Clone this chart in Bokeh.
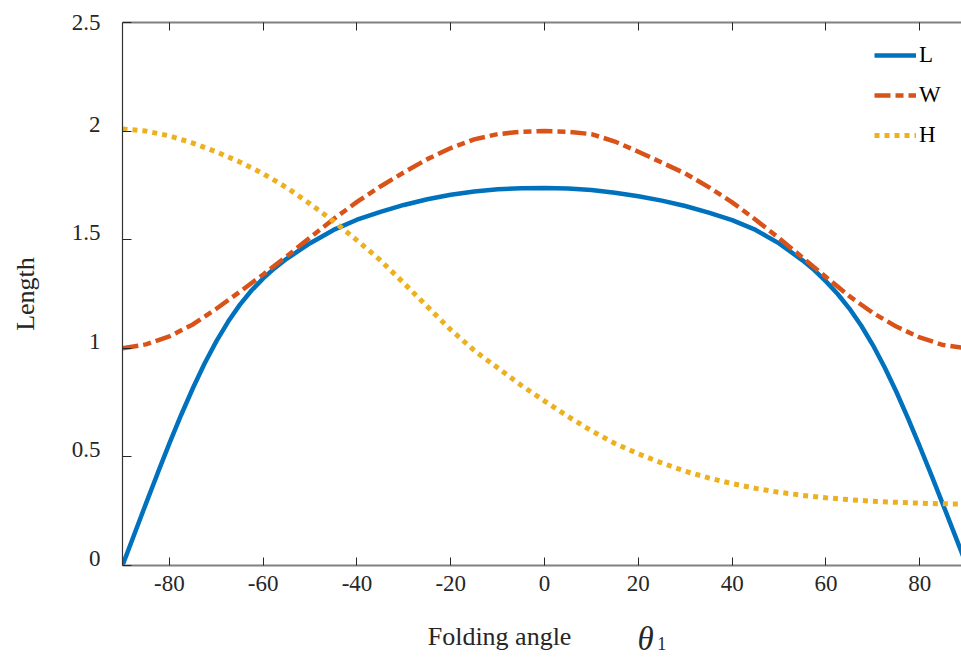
from bokeh.plotting import figure
from bokeh.layouts import column
from bokeh.models import LinearAxis, Range1d, Legend, LegendItem, Label, FixedTicker
from bokeh.embed import file_html
from bokeh.resources import INLINE

# ---- data ----
angle_L = [-90, -87.5, -85, -82.5, -80, -77.5, -75, -72.5, -70, -67.5, -65, -62.5, -60, -57.5, -55,
           -50, -45, -40, -35, -30, -25, -20, -15, -10, -5, 0, 5, 10, 15, 20, 25, 30, 35, 40, 45, 50,
           55, 57.5, 60, 62.5, 65, 67.5, 70, 72.5, 75, 77.5, 80, 82.5, 85, 87.5, 90]
L_len = [0.0, 0.143, 0.285, 0.425, 0.562, 0.693, 0.816, 0.93, 1.032, 1.122, 1.2, 1.266, 1.322, 1.37, 1.412,
         1.484, 1.545, 1.592, 1.628, 1.66, 1.686, 1.707, 1.722, 1.732, 1.737, 1.738, 1.736, 1.729, 1.716,
         1.70, 1.68, 1.655, 1.625, 1.59, 1.545, 1.483,
         1.405, 1.36, 1.308, 1.25, 1.183, 1.105, 1.015, 0.913, 0.80, 0.677, 0.548, 0.415, 0.278, 0.14, 0.0]
angle = [-90, -85, -80, -75, -70, -65, -60, -55, -50, -45, -40, -35, -30, -25, -20, -15, -10, -5, 0,
         5, 10, 15, 20, 25, 30, 35, 40, 45, 50, 55, 60, 65, 70, 75, 80, 85, 90]
W_len = [1.0, 1.018, 1.055, 1.11, 1.182, 1.26, 1.34, 1.423, 1.51, 1.595, 1.674, 1.745, 1.81, 1.871,
         1.922, 1.962, 1.986, 1.997, 2.0, 1.997, 1.986, 1.952, 1.905, 1.855, 1.805, 1.742, 1.672, 1.592,
         1.507, 1.418, 1.328, 1.24, 1.163, 1.10, 1.05, 1.015, 1.0]
H_len = [2.01, 2.0, 1.978, 1.945, 1.905, 1.858, 1.804, 1.74, 1.665, 1.585, 1.497, 1.405, 1.30, 1.192,
         1.085, 0.99, 0.91, 0.83, 0.757, 0.686, 0.62, 0.562, 0.514, 0.472, 0.434, 0.403, 0.377,
         0.355, 0.337, 0.323, 0.312, 0.303, 0.296, 0.291, 0.287, 0.284, 0.283]
series_names = ["L", "W", "H"]
x_ticks = [-80, -60, -40, -20, 0, 20, 40, 60, 80]
x_tick_labels = ["-80", "-60", "-40", "-20", "0", "20", "40", "60", "80"]
y_ticks = [0, 0.5, 1, 1.5, 2, 2.5]
y_tick_labels = ["0", "0.5", "1", "1.5", "2", "2.5"]
x_label = "Folding angle"
x_symbol = "θ"
x_symbol_sub = "1"
y_label = "Length"

FONT = "Liberation Serif"
BLUE = "#0072BD"
ORANGE = "#D95319"
YELLOW = "#EDB120"
DARK = "#262626"

X0, X1 = -90, 88.9
Y0, Y1 = 0, 2.5
PX_PER_UNIT = 543 / 2.5          # vertical pixels per unit of length in the frame
LABEL_SHIFT = 7 / PX_PER_UNIT    # y tick labels sit a few pixels above their ticks

p = figure(width=961, height=605, output_backend="svg", toolbar_location=None,
           x_range=Range1d(X0, X1), y_range=Range1d(Y0, Y1),
           min_border_left=122, min_border_right=0, min_border_top=22, min_border_bottom=40,
           x_axis_location=None, y_axis_location=None)
p.grid.visible = False
p.outline_line_color = None
p.background_fill_color = "white"
p.border_fill_color = "white"
p.extra_y_ranges = {"lab": Range1d(Y0 - LABEL_SHIFT, Y1 - LABEL_SHIFT)}

# bottom axis
xb = LinearAxis(ticker=FixedTicker(ticks=x_ticks),
                major_label_overrides={t: s for t, s in zip(x_ticks, x_tick_labels)})
xb.axis_line_color = "#808080"
xb.axis_line_width = 2
xb.major_tick_in = 8
xb.major_tick_out = 0
xb.major_tick_line_color = DARK
xb.minor_tick_line_color = None
xb.major_label_standoff = 10
xb.major_label_text_font = FONT
xb.major_label_text_font_size = "23px"
xb.major_label_text_color = DARK
p.add_layout(xb, "below")

# top axis (box edge with inward ticks)
xt = LinearAxis(ticker=FixedTicker(ticks=x_ticks),
                major_label_overrides={t: "" for t in x_ticks})
xt.axis_line_color = "#808080"
xt.axis_line_width = 2
xt.major_tick_in = 8
xt.major_tick_out = 0
xt.major_tick_line_color = DARK
xt.minor_tick_line_color = None
xt.major_label_standoff = 0
p.add_layout(xt, "above")

# left axis: line + inward ticks
yt = LinearAxis(ticker=FixedTicker(ticks=y_ticks),
                major_label_overrides={t: "" for t in y_ticks})
yt.axis_line_color = "#333333"
yt.axis_line_width = 1.2
yt.major_tick_in = 9
yt.major_tick_out = 0
yt.major_tick_line_color = DARK
yt.minor_tick_line_color = None
yt.major_label_standoff = 0
p.add_layout(yt, "left")

# left axis: tick labels (slightly raised) + axis title
lab_ticks = [t for t in y_ticks if t <= Y1 - LABEL_SHIFT] + [Y1 - LABEL_SHIFT]
lab_texts = y_tick_labels[:len(lab_ticks) - 1] + [y_tick_labels[-1]]
yl = LinearAxis(ticker=FixedTicker(ticks=lab_ticks), y_range_name="lab",
                major_label_overrides={t: s for t, s in zip(lab_ticks, lab_texts)})
yl.axis_line_color = None
yl.major_tick_line_color = None
yl.minor_tick_line_color = None
yl.major_tick_in = 0
yl.major_tick_out = 0
yl.major_label_standoff = 22
yl.major_label_text_font = FONT
yl.major_label_text_font_size = "23px"
yl.major_label_text_color = DARK
yl.axis_label = y_label
yl.axis_label_text_font = FONT
yl.axis_label_text_font_size = "26px"
yl.axis_label_text_font_style = "normal"
yl.axis_label_text_color = DARK
yl.axis_label_standoff = 29
p.add_layout(yl, "left")

rL = p.line(angle_L, L_len, line_color=BLUE, line_width=4.5)
rW = p.line(angle, W_len, line_color=ORANGE, line_width=4.5, line_dash="16 5 8 5")
rH = p.line(angle, H_len, line_color=YELLOW, line_width=5, line_dash="5 5")

legend = Legend(items=[LegendItem(label=series_names[0], renderers=[rL]),
                       LegendItem(label=series_names[1], renderers=[rW]),
                       LegendItem(label=series_names[2], renderers=[rH])],
                location=(752, 415))
legend.border_line_color = None
legend.background_fill_alpha = 0
legend.padding = 0
legend.margin = 0
legend.glyph_width = 42
legend.glyph_height = 30
legend.label_height = 30
legend.spacing = 10
legend.label_standoff = 3
legend.label_text_font = FONT
legend.label_text_font_size = "23px"
legend.label_text_color = "#000000"
p.add_layout(legend, "center")

# strip below the chart carrying the x-axis title "Folding angle  θ1"
# (its frame is aligned with the main frame by the column layout, so it shares the x range)
q = figure(width=961, height=52, output_backend="svg", toolbar_location=None,
           x_range=p.x_range, y_range=Range1d(0, 52),
           min_border=0, min_border_left=122, min_border_right=0, min_border_top=0, min_border_bottom=0,
           x_axis_location=None, y_axis_location=None)
q.grid.visible = False
q.outline_line_color = None
q.background_fill_color = "white"
q.border_fill_color = "white"
q.add_layout(Label(x=-9.6, y=21, text=x_label, text_align="center", text_baseline="alphabetic",
                   text_font=FONT, text_font_size="26px", text_color=DARK))
q.add_layout(Label(x=19.8, y=19, text=x_symbol, text_align="left", text_baseline="alphabetic",
                   text_font=FONT, text_font_size="33px", text_font_style="italic", text_color=DARK))
q.add_layout(Label(x=24.0, y=14, text=x_symbol_sub, text_align="left", text_baseline="alphabetic",
                   text_font=FONT, text_font_size="18px", text_color=DARK))

layout = column(p, q, spacing=0)
open("out.html", "w").write(file_html(layout, INLINE))
